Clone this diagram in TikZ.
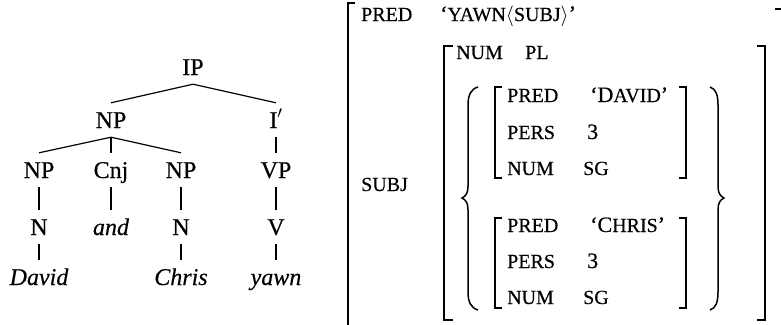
\documentclass[tikz,border=0pt]{standalone}
\usepackage{fontspec}
\setmainfont{Liberation Serif}[FakeBold=0.35,ItalicFeatures={FakeBold=0.35}]
\newcommand\smcap[1]{{\fontsize{20}{22}\selectfont #1}}
\newcommand\fsz{\fontsize{22}{25}\selectfont}
\begin{document}
\begin{tikzpicture}[x=1pt,y=-1pt,
  tn/.style={anchor=base,inner xsep=0pt,inner ysep=9pt,text height=16pt,text depth=0pt,font=\fontsize{24}{28}\selectfont},
  fs/.style={anchor=base west,inner sep=0pt,font=\fsz},
  edge/.style={line width=1.2pt},
  brk/.style={line width=1.8pt},
  brs/.style={line width=1.5pt}]
\useasboundingbox (0,0) rectangle (781,324);
% ---------- tree ----------
\node[tn] (ip)  at (193,75)  {IP};
\node[tn] (np)  at (111,128) {NP};
\node[tn] (ib)  at (276,128) {I$'$};
\node[tn] (np1) at (39,178)  {NP};
\node[tn] (cnj) at (111,178) {Cnj};
\node[tn] (np2) at (181,178) {NP};
\node[tn] (vp)  at (276,178) {VP};
\node[tn] (n1)  at (39,235)  {N};
\node[tn] (and) at (111,235) {\itshape and};
\node[tn] (n2)  at (181,235) {N};
\node[tn] (v)   at (276,235) {V};
\node[tn] (david) at (39,285)  {\itshape David};
\node[tn] (chris) at (181,285) {\itshape Chris};
\node[tn] (yawn)  at (276,285) {\itshape yawn};
\draw[edge] (ip.south) -- (np.north);
\draw[edge] (ip.south) -- (ib.north);
\draw[edge] (np.south) -- (np1.north);
\draw[edge] (np.south) -- (cnj.north);
\draw[edge] (np.south) -- (np2.north);
\draw[edge] (ib.south) -- (vp.north);
\draw[edge] (np1.south) -- (n1.north);
\draw[edge] (cnj.south) -- (and.north);
\draw[edge] (np2.south) -- (n2.north);
\draw[edge] (vp.south) -- (v.north);
\draw[edge] (n1.south) -- (david.north);
\draw[edge] (n2.south) -- (chris.north);
\draw[edge] (v.south) -- (yawn.north);
% ---------- f-structure ----------
% outer bracket
\draw[brk] (355,3) -- (348,3) -- (348,330);
\draw[brk] (775,9) -- (782,9);
\node[fs] (pred0) at (361,21) {\smcap{PRED}};
\node[fs] (yawnv) at (440,21) {`\smcap{YAWN}$\langle$\smcap{SUBJ}$\rangle$'};
\node[fs] (subj)  at (361,191) {\smcap{SUBJ}};
% inner bracket
\draw[brk] (453,46) -- (444,46) -- (444,320) -- (453,320);
\draw[brk] (757,46) -- (765,46) -- (765,320) -- (757,320);
\node[fs] (num0) at (456,59) {\smcap{NUM}};
\node[fs] (pl)   at (525,59) {\smcap{PL}};
% braces
\draw[brs] (478,87) .. controls (471,89) and (468,95) .. (468,105) -- (468,186)
  .. controls (468,193) and (466,196) .. (462,198)
  .. controls (466,200) and (468,203) .. (468,210) -- (468,292)
  .. controls (468,302) and (471,308) .. (478,310);
\draw[brs] (710,87) .. controls (716,89) and (718,95) .. (718,105) -- (718,186)
  .. controls (718,193) and (720,196) .. (724,198)
  .. controls (720,200) and (718,203) .. (718,210) -- (718,292)
  .. controls (718,302) and (716,308) .. (710,310);
% David
\draw[brs] (502,87) -- (495,87) -- (495,178) -- (502,178);
\draw[brs] (679,87) -- (686,87) -- (686,178) -- (679,178);
\node[fs] (pred1) at (507,102) {\smcap{PRED}};
\node[fs] (dv)    at (590,102) {`D\smcap{AVID}'};
\node[fs] (pers1) at (507,139) {\smcap{PERS}};
\node[fs] (p1v)   at (587,139) {3};
\node[fs] (num1)  at (507,175) {\smcap{NUM}};
\node[fs] (n1v)   at (583,175) {\smcap{SG}};
% Chris
\draw[brs] (502,218) -- (495,218) -- (495,308) -- (502,308);
\draw[brs] (679,218) -- (686,218) -- (686,308) -- (679,308);
\node[fs] (pred2) at (507,232) {\smcap{PRED}};
\node[fs] (cv)    at (590,232) {`C\smcap{HRIS}'};
\node[fs] (pers2) at (507,268) {\smcap{PERS}};
\node[fs] (p2v)   at (587,268) {3};
\node[fs] (num2)  at (507,304) {\smcap{NUM}};
\node[fs] (n2v)   at (583,304) {\smcap{SG}};
\end{tikzpicture}
\end{document}
